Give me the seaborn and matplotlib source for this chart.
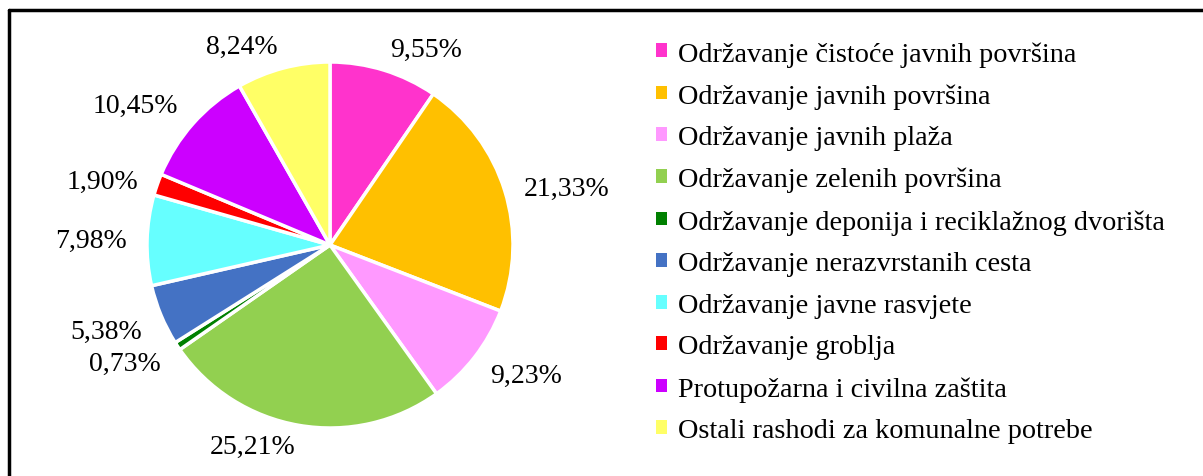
import matplotlib.pyplot as plt
import seaborn as sns
import numpy as np
from matplotlib.patches import Patch
from matplotlib.lines import Line2D

sns.set_theme(style="white")
plt.rcParams['font.family'] = ['Liberation Serif', 'DejaVu Serif']
plt.rcParams['text.color'] = 'black'

categories = [
    "Održavanje čistoće javnih površina",
    "Održavanje javnih površina",
    "Održavanje javnih plaža",
    "Održavanje zelenih površina",
    "Održavanje deponija i reciklažnog dvorišta",
    "Održavanje nerazvrstanih cesta",
    "Održavanje javne rasvjete",
    "Održavanje groblja",
    "Protupožarna i civilna zaštita",
    "Ostali rashodi za komunalne potrebe",
]
shares = [9.55, 21.33, 9.23, 25.21, 0.73, 5.38, 7.98, 1.90, 10.45, 8.24]
colors = ["#FF33CC", "#FFC000", "#FF99FF", "#92D050", "#008000",
          "#4472C4", "#66FFFF", "#FF0000", "#CC00FF", "#FFFF66"]
palette = sns.color_palette(colors)

W, H = 1203, 477
fig = plt.figure(figsize=(W / 100, H / 100), dpi=100)

# pie axes: centre ~(330, 246) px, radius ~183 px
cx, cy, r = 330, 246, 183
ax = fig.add_axes([(cx - r) / W, (H - cy - r) / H, 2 * r / W, 2 * r / H])
wedges, _ = ax.pie(shares, colors=palette, startangle=90, counterclock=False,
                   wedgeprops=dict(edgecolor='white', linewidth=2.5))
ax.set_xlim(-1, 1)
ax.set_ylim(-1, 1)
ax.set_aspect('equal')
ax.axis('off')

# outside-end labels, like Excel
for w, v in zip(wedges, shares):
    th = np.deg2rad((w.theta1 + w.theta2) / 2)
    c, s = np.cos(th), np.sin(th)
    ha = 'left' if c > 0 else 'right'
    if abs(s) < 0.35:
        va = 'center'
    else:
        va = 'bottom' if s > 0 else 'top'
    ax.text(1.11 * c, 1.05 * s, f"{v:.2f}%".replace('.', ','), ha=ha, va=va,
            fontsize=20, color='black', clip_on=False)

handles = [Patch(facecolor=col, edgecolor='none') for col in palette]
leg = fig.legend(handles, categories, loc='upper left', bbox_to_anchor=(656 / W, 1 - 42 / H),
                 frameon=False, fontsize=20.3, handlelength=0.38, handleheight=0.38,
                 handletextpad=0.4, labelspacing=0.59, borderpad=0, borderaxespad=0)
for t in leg.get_texts():
    t.set_color('black')

# partial frame line (top and left) like the cropped border
fig.add_artist(Line2D([9 / W, 1.0], [1 - 11 / H, 1 - 11 / H], color='black', lw=2.5,
                      transform=fig.transFigure))
fig.add_artist(Line2D([9 / W, 9 / W], [0, 1 - 11 / H], color='black', lw=2.5,
                      transform=fig.transFigure))

fig.savefig("out.png", dpi=100)
